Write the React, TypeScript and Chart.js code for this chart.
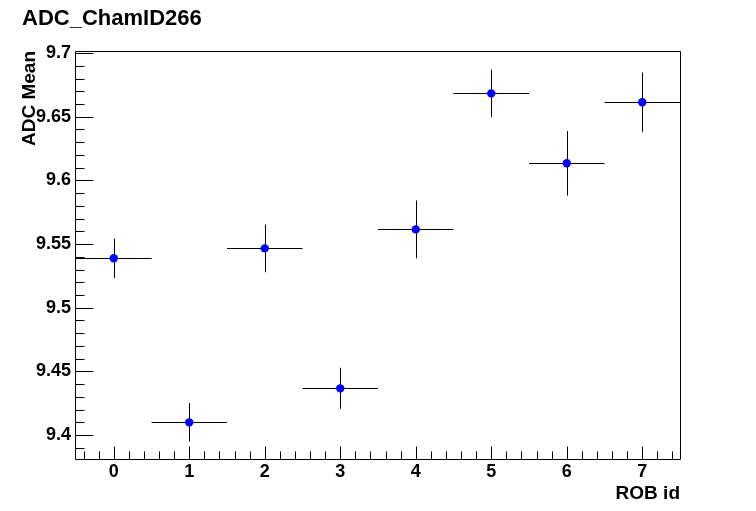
import React, { useEffect, useRef } from "react";
import { Chart, registerables } from "chart.js";

Chart.register(...registerables);

const chartTitle = "ADC_ChamID266";
const xAxisTitle = "ROB id";
const yAxisTitle = "ADC Mean";

const robIds = [0, 1, 2, 3, 4, 5, 6, 7];
const adcMean = [9.5388, 9.41, 9.5466, 9.4367, 9.5615, 9.6683, 9.6134, 9.6613];
const adcMeanErr = [0.0155, 0.0151, 0.0187, 0.0161, 0.0227, 0.0187, 0.0254, 0.0234];
const robHalfWidth = [0.5, 0.5, 0.5, 0.5, 0.5, 0.5, 0.5, 0.5];

const xTickValues = [0, 1, 2, 3, 4, 5, 6, 7];
const xTickLabels = ["0", "1", "2", "3", "4", "5", "6", "7"];
const yTickValues = [9.4, 9.45, 9.5, 9.55, 9.6, 9.65, 9.7];
const yTickLabels = ["9.4", "9.45", "9.5", "9.55", "9.6", "9.65", "9.7"];

const xMin = -0.5;
const xMax = 7.5;
const yMin = 9.3812;
const yMax = 9.7016;
const xMinorStep = 0.2;
const yMinorStep = 0.01;

const FONT = '"Liberation Sans", Arial, Helvetica, sans-serif';

const rootStyle = {
  id: "rootStyle",
  beforeDatasetsDraw(chart: any) {
    const { ctx } = chart;
    const xs = chart.scales.x;
    const ys = chart.scales.y;
    ctx.save();
    ctx.strokeStyle = "#000";
    ctx.lineWidth = 1;
    ctx.beginPath();
    robIds.forEach((r, i) => {
      const px = Math.round(xs.getPixelForValue(r)) + 0.5;
      const py = Math.round(ys.getPixelForValue(adcMean[i])) + 0.5;
      const x0 = xs.getPixelForValue(r - robHalfWidth[i]);
      const x1 = xs.getPixelForValue(r + robHalfWidth[i]);
      const y0 = ys.getPixelForValue(adcMean[i] + adcMeanErr[i]);
      const y1 = ys.getPixelForValue(adcMean[i] - adcMeanErr[i]);
      ctx.moveTo(x0, py);
      ctx.lineTo(x1, py);
      ctx.moveTo(px, y0);
      ctx.lineTo(px, y1);
    });
    ctx.stroke();
    ctx.restore();
  },
  afterDraw(chart: any) {
    const { ctx, chartArea } = chart;
    const xs = chart.scales.x;
    const ys = chart.scales.y;
    const L = chartArea.left - 0.5;
    const R = chartArea.right + 0.5;
    const T = chartArea.top + 0.5;
    const B = chartArea.bottom + 0.5;
    ctx.save();
    ctx.strokeStyle = "#000";
    ctx.lineWidth = 1;
    ctx.beginPath();
    ctx.moveTo(L, T);
    ctx.lineTo(R, T);
    ctx.lineTo(R, B);
    ctx.lineTo(L, B);
    ctx.closePath();
    // y ticks (inside)
    const yStart = Math.ceil(yMin / yMinorStep - 1e-6);
    const yEnd = Math.floor(yMax / yMinorStep + 1e-6);
    for (let k = yStart; k <= yEnd; k++) {
      const v = k * yMinorStep;
      const isMajor = yTickValues.some((t) => Math.abs(t - v) < 1e-6);
      const py = Math.round(ys.getPixelForValue(v)) + 0.5;
      ctx.moveTo(L, py);
      ctx.lineTo(L + (isMajor ? 18 : 9), py);
    }
    // x ticks (inside)
    const xStart = Math.ceil(xMin / xMinorStep - 1e-6);
    const xEnd = Math.floor(xMax / xMinorStep + 1e-6);
    for (let k = xStart; k <= xEnd; k++) {
      const v = k * xMinorStep;
      const isMajor = xTickValues.some((t) => Math.abs(t - v) < 1e-6);
      const px = Math.round(xs.getPixelForValue(v)) + 0.5;
      ctx.moveTo(px, B);
      ctx.lineTo(px, B - (isMajor ? 13 : 8));
    }
    ctx.stroke();
    // chart title
    ctx.fillStyle = "#000";
    ctx.font = `bold 22px ${FONT}`;
    ctx.textAlign = "left";
    ctx.textBaseline = "alphabetic";
    ctx.fillText(chartTitle, 22, 25);
    ctx.restore();
  },
};

export default function App() {
  const canvasRef = useRef<HTMLCanvasElement | null>(null);

  useEffect(() => {
    const canvas = canvasRef.current;
    if (!canvas) return;
    const chart = new Chart(canvas, {
      type: "scatter",
      data: {
        datasets: [
          {
            label: "ADC Mean",
            data: robIds.map((r, i) => ({ x: r, y: adcMean[i] })),
            backgroundColor: "#0000ff",
            borderColor: "#0000ff",
            pointRadius: 4.2,
            pointHoverRadius: 4.2,
            borderWidth: 0,
            showLine: false,
          },
        ],
      },
      plugins: [rootStyle],
      options: {
        responsive: false,
        animation: false,
        devicePixelRatio: 1,
        layout: { padding: { top: 51, right: 76, bottom: 0, left: 0 } },
        plugins: {
          legend: { display: false },
          title: { display: false },
          tooltip: { enabled: false },
        },
        scales: {
          x: {
            type: "linear",
            min: xMin,
            max: xMax,
            afterBuildTicks: (scale: any) => {
              scale.ticks = xTickValues.map((v) => ({ value: v }));
            },
            afterFit: (scale: any) => {
              scale.height = 52;
            },
            grid: { display: false, drawTicks: false },
            border: { display: false },
            ticks: {
              color: "#000",
              font: { family: FONT, size: 18, weight: "bold" },
              padding: 2,
              maxRotation: 0,
              autoSkip: false,
              callback: (value: any) => {
                const idx = xTickValues.findIndex((t) => Math.abs(t - Number(value)) < 1e-6);
                return idx >= 0 ? xTickLabels[idx] : "";
              },
            },
            title: {
              display: true,
              text: xAxisTitle,
              align: "end",
              color: "#000",
              font: { family: FONT, size: 19, weight: "bold" },
              padding: { top: 0, bottom: 6 },
            },
          },
          y: {
            type: "linear",
            min: yMin,
            max: yMax,
            afterBuildTicks: (scale: any) => {
              scale.ticks = yTickValues.map((v) => ({ value: v }));
            },
            afterFit: (scale: any) => {
              scale.width = 76;
            },
            grid: { display: false, drawTicks: false },
            border: { display: false },
            ticks: {
              color: "#000",
              font: { family: FONT, size: 18, weight: "bold" },
              padding: 5,
              autoSkip: false,
              callback: (value: any) => {
                const idx = yTickValues.findIndex((t) => Math.abs(t - Number(value)) < 1e-6);
                return idx >= 0 ? yTickLabels[idx] : "";
              },
            },
            title: {
              display: true,
              text: yAxisTitle,
              align: "end",
              color: "#000",
              font: { family: FONT, size: 19, weight: "bold" },
              padding: { top: 18, bottom: 0 },
            },
          },
        },
      },
    } as any);
    return () => chart.destroy();
  }, []);

  return (
    <div style={{ position: "absolute", left: 0, top: 0, width: 756, height: 511, background: "#fff" }}>
      <canvas ref={canvasRef} width={756} height={511} style={{ display: "block", width: 756, height: 511 }} />
    </div>
  );
}
